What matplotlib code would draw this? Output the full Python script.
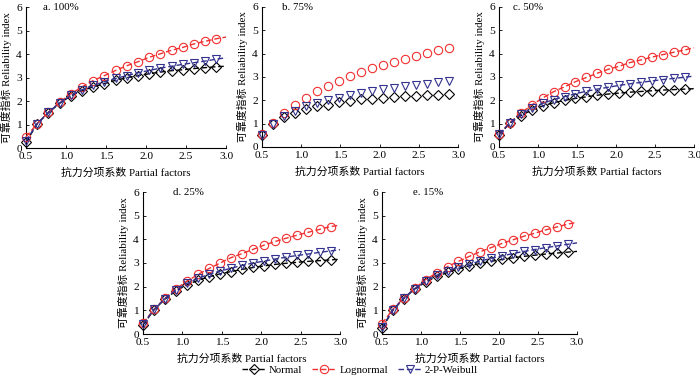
import matplotlib
matplotlib.use("Agg")
import matplotlib.pyplot as plt
from matplotlib.lines import Line2D

plt.rcParams['font.family'] = ['Liberation Serif', 'Noto Sans CJK SC']
plt.rcParams['axes.unicode_minus'] = False

# partial factors (last point carries no marker)
x = [0.5, 0.64, 0.78, 0.92, 1.06, 1.2, 1.34, 1.48, 1.62, 1.76, 1.9, 2.04,
     2.18, 2.32, 2.46, 2.6, 2.74, 2.88, 3.0]

panel_titles = ["a. 100%", "b. 75%", "c. 50%", "d. 25%", "e. 15%"]
series_names = ["Normal", "Lognormal", "2-P-Weibull"]

normal_a = [0.24, 1.03, 1.50, 1.90, 2.22, 2.44, 2.60, 2.74, 2.88, 2.99, 3.08, 3.16, 3.23, 3.29, 3.33, 3.38, 3.42, 3.46, 3.48]
lognormal_a = [0.47, 1.04, 1.52, 1.94, 2.31, 2.60, 2.87, 3.08, 3.30, 3.50, 3.67, 3.86, 4.01, 4.16, 4.28, 4.43, 4.54, 4.65, 4.72]
weibull_a = [0.30, 1.04, 1.52, 1.92, 2.24, 2.48, 2.66, 2.82, 2.96, 3.08, 3.20, 3.30, 3.40, 3.48, 3.56, 3.63, 3.70, 3.78, 3.84]

normal_b = [0.52, 0.98, 1.27, 1.45, 1.62, 1.74, 1.82, 1.91, 1.98, 2.04, 2.07, 2.11, 2.15, 2.18, 2.19, 2.22, 2.24, 2.26, 2.27]
lognormal_b = [0.55, 1.05, 1.45, 1.80, 2.12, 2.40, 2.63, 2.84, 3.03, 3.22, 3.37, 3.53, 3.65, 3.78, 3.92, 4.03, 4.14, 4.24, 4.30]
weibull_b = [0.52, 1.00, 1.32, 1.55, 1.74, 1.88, 2.00, 2.12, 2.22, 2.32, 2.40, 2.48, 2.55, 2.61, 2.67, 2.72, 2.77, 2.81, 2.86]

normal_c = [0.52, 1.02, 1.35, 1.58, 1.76, 1.90, 2.00, 2.08, 2.15, 2.22, 2.27, 2.31, 2.35, 2.38, 2.41, 2.44, 2.46, 2.48, 2.50]
lognormal_c = [0.55, 1.05, 1.45, 1.80, 2.10, 2.37, 2.58, 2.80, 2.98, 3.16, 3.33, 3.46, 3.62, 3.73, 3.85, 3.96, 4.06, 4.16, 4.25]
weibull_c = [0.55, 1.03, 1.40, 1.66, 1.87, 2.03, 2.16, 2.28, 2.39, 2.48, 2.56, 2.64, 2.71, 2.77, 2.83, 2.89, 2.94, 2.99, 3.04]

normal_d = [0.38, 1.02, 1.48, 1.83, 2.08, 2.27, 2.42, 2.54, 2.64, 2.73, 2.81, 2.88, 2.94, 2.99, 3.03, 3.07, 3.10, 3.13, 3.16]
lognormal_d = [0.46, 1.04, 1.52, 1.92, 2.23, 2.52, 2.77, 3.00, 3.23, 3.40, 3.58, 3.76, 3.91, 4.05, 4.18, 4.30, 4.42, 4.54, 4.60]
weibull_d = [0.42, 1.04, 1.50, 1.86, 2.14, 2.35, 2.52, 2.66, 2.78, 2.90, 3.00, 3.08, 3.17, 3.25, 3.32, 3.38, 3.45, 3.51, 3.56]

normal_e = [0.24, 1.00, 1.50, 1.90, 2.20, 2.43, 2.60, 2.75, 2.88, 2.98, 3.07, 3.15, 3.22, 3.28, 3.33, 3.38, 3.42, 3.46, 3.49]
lognormal_e = [0.44, 1.05, 1.53, 1.93, 2.30, 2.58, 2.85, 3.07, 3.28, 3.48, 3.65, 3.83, 3.98, 4.13, 4.26, 4.40, 4.52, 4.64, 4.72]
weibull_e = [0.28, 1.02, 1.52, 1.92, 2.24, 2.48, 2.66, 2.82, 2.96, 3.08, 3.20, 3.30, 3.40, 3.49, 3.57, 3.65, 3.72, 3.79, 3.85]

panels = [
    (normal_a, lognormal_a, weibull_a),
    (normal_b, lognormal_b, weibull_b),
    (normal_c, lognormal_c, weibull_c),
    (normal_d, lognormal_d, weibull_d),
    (normal_e, lognormal_e, weibull_e),
]

xticks = [0.5, 1.0, 1.5, 2.0, 2.5, 3.0]
xticklabels = ["0.5", "1.0", "1.5", "2.0", "2.5", "3.0"]
yticks = [0, 1, 2, 3, 4, 5, 6]

colors = ["black", "#f03030", "#33338f"]
markers = ["D", "o", "v"]
msizes = [4.6, 6.0, 5.6]

W, H = 700, 382
fig = plt.figure(figsize=(W / 100, H / 100), dpi=100)

# axes boxes in pixels: left, right, top, bottom
boxes = [
    (26, 226, 7, 148),
    (262, 458, 7, 147),
    (499, 694, 7, 147),
    (143, 340, 192, 334),
    (382, 577, 192, 334),
]
title_x = [0.085, 0.10, 0.07, 0.15, 0.16]

FS = 7.8
wb_style = (0, (4, 2))

for i, (box, data, title) in enumerate(zip(boxes, panels, panel_titles)):
    l, r, t, b = box
    ax = fig.add_axes([l / W, 1 - b / H, (r - l) / W, (b - t) / H])
    for j, ys in enumerate(data):
        if i == 1:
            # markers only, with a short dash at the end of the curve
            ax.plot(x[:-1], ys[:-1], linestyle='none', marker=markers[j],
                    markersize=msizes[j], markerfacecolor='none',
                    markeredgecolor=colors[j], markeredgewidth=0.8,
                    clip_on=False, zorder=3)
            ax.plot(x[-2:], ys[-2:], color=colors[j], lw=1.0,
                    linestyle=(3, (3, 17)), clip_on=False)
        else:
            ax.plot(x, ys, color=colors[j], lw=1.0, linestyle=wb_style,
                    marker=markers[j], markersize=msizes[j],
                    markerfacecolor='none', markeredgecolor=colors[j],
                    markeredgewidth=0.8, markevery=slice(0, len(x) - 1),
                    clip_on=False, zorder=3)
    ax.set_xlim(0.5, 3.0)
    ax.set_ylim(0, 6)
    ax.set_xticks(xticks)
    ax.set_xticklabels(xticklabels)
    ax.set_yticks(yticks)
    for s in ['top', 'right']:
        ax.spines[s].set_visible(False)
    for s in ['left', 'bottom']:
        ax.spines[s].set_linewidth(0.8)
    ax.tick_params(direction='in', length=2, width=0.6, labelsize=8.2, pad=3)
    ax.set_xlabel("抗力分项系数 Partial factors", fontsize=FS, labelpad=5)
    ax.set_ylabel("可靠度指标 Reliability index", fontsize=FS, labelpad=3)
    ax.text(title_x[i], 1.025, title, transform=ax.transAxes, fontsize=FS,
            ha='left', va='top')

handles = [
    Line2D([], [], color=colors[j], lw=1.0, linestyle=wb_style,
           marker=markers[j], markersize=msizes[j], markerfacecolor='none',
           markeredgecolor=colors[j], markeredgewidth=0.8)
    for j in range(3)
]
fig.legend(handles, series_names, loc='center', bbox_to_anchor=(360 / W, 1 - 370 / H),
           ncol=3, frameon=False, fontsize=FS, handlelength=2.2,
           handletextpad=0.3, columnspacing=0.9, borderaxespad=0, borderpad=0)

fig.savefig("out.png", dpi=100)
